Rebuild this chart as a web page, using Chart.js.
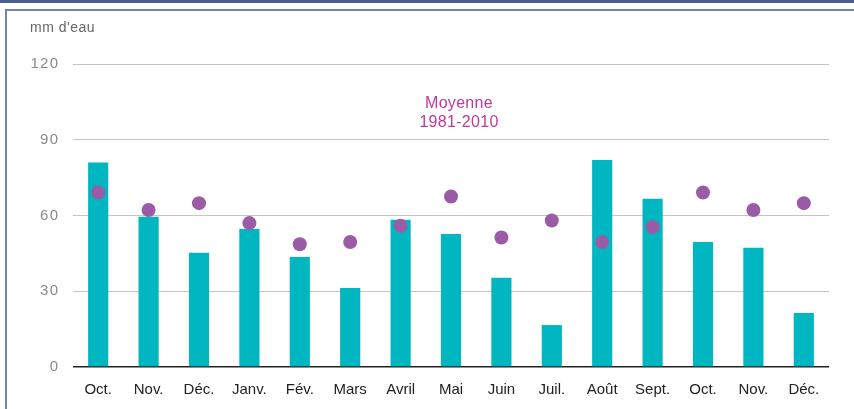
<!DOCTYPE html>
<html>
<head>
<meta charset="utf-8">
<script src="https://cdn.jsdelivr.net/npm/chart.js@4"></script>
<style>
  html, body { margin: 0; padding: 0; background: #fff; }
  #wrap { width: 854px; height: 409px; position: relative; }
</style>
</head>
<body>
<div id="wrap"><canvas id="c" width="854" height="409"></canvas></div>
<script>
const categories = ["Oct.", "Nov.", "Déc.", "Janv.", "Fév.", "Mars", "Avril", "Mai", "Juin", "Juil.", "Août", "Sept.", "Oct.", "Nov.", "Déc."];
const rainfall = [81, 59.5, 45.2, 54.7, 43.6, 31.3, 58.3, 52.7, 35.3, 16.6, 82, 66.6, 49.5, 47.2, 21.4];
const normal19812010 = [69.1, 62.2, 64.9, 57, 48.6, 49.5, 55.9, 67.5, 51.3, 58, 49.5, 55.4, 69.1, 62.2, 64.9];
const yTicks = [0, 30, 60, 90, 120];
const unitLabel = "mm d'eau";
const noteLines = ["Moyenne", "1981-2010"];

const framePlugin = {
  id: 'frame',
  beforeDraw(chart) {
    const ctx = chart.ctx;
    ctx.save();
    ctx.fillStyle = '#fff';
    ctx.fillRect(0, 0, chart.width, chart.height);
    ctx.fillStyle = '#4b5f8e';
    ctx.fillRect(0, 0, chart.width, 3);
    ctx.fillStyle = '#6f82ad';
    ctx.fillRect(5, 9, chart.width - 5, 2);
    ctx.fillRect(5, 9, 2, chart.height - 9);
    ctx.restore();
  },
  afterDraw(chart) {
    const ctx = chart.ctx;
    ctx.save();
    ctx.font = '14px "Liberation Sans", Arial, sans-serif';
    if ('letterSpacing' in ctx) ctx.letterSpacing = '0.5px';
    ctx.fillStyle = '#666';
    ctx.textBaseline = 'middle';
    ctx.textAlign = 'left';
    ctx.fillText(unitLabel, 30, 28);
    if ('letterSpacing' in ctx) ctx.letterSpacing = '0.3px';
    const xs = chart.scales.x;
    const cx = xs.getPixelForValue(7) + 8;
    ctx.font = '16px "Liberation Sans", Arial, sans-serif';
    ctx.fillStyle = '#c0389c';
    ctx.textAlign = 'center';
    ctx.fillText(noteLines[0], cx, 104);
    ctx.fillText(noteLines[1], cx, 123);
    ctx.restore();
  }
};

new Chart(document.getElementById('c'), {
  data: {
    labels: categories,
    datasets: [
      {
        type: 'line',
        label: 'Moyenne 1981-2010',
        data: normal19812010,
        showLine: false,
        pointRadius: 7,
        pointHoverRadius: 7,
        pointBackgroundColor: '#9c5ba6',
        pointBorderWidth: 0,
        borderColor: '#9c5ba6',
        order: 0
      },
      {
        type: 'bar',
        label: 'Précipitations',
        data: rainfall,
        backgroundColor: '#00b6c1',
        barPercentage: 0.4,
        categoryPercentage: 1.0,
        order: 1
      }
    ]
  },
  plugins: [framePlugin],
  options: {
    responsive: false,
    animation: false,
    events: [],
    layout: { padding: { left: 0, top: 64, right: 25, bottom: 0 } },
    plugins: { legend: { display: false }, tooltip: { enabled: false } },
    scales: {
      x: {
        grid: { display: false, drawTicks: false },
        border: { display: false },
        ticks: {
          color: '#222',
          padding: 14,
          maxRotation: 0,
          autoSkip: false,
          font: { family: '"Liberation Sans", Arial, sans-serif', size: 15 }
        },
        afterFit(scale) { scale.height = 42; }
      },
      y: {
        min: 0,
        max: 120,
        afterBuildTicks(scale) { scale.ticks = yTicks.map(v => ({ value: v })); },
        grid: {
          drawTicks: false,
          color: ctx => (ctx.tick && ctx.tick.value === 0) ? '#222' : '#c4c4c4',
          lineWidth: ctx => (ctx.tick && ctx.tick.value === 0) ? 1.5 : 1
        },
        border: { display: false },
        ticks: {
          color: '#8a8a8a',
          padding: 15,
          font: { family: '"Liberation Sans", Arial, sans-serif', size: 15 },
          callback: v => String(v).split('').join('\u200A')
        },
        afterFit(scale) { scale.width = 73; }
      }
    }
  }
});
</script>
</body>
</html>
